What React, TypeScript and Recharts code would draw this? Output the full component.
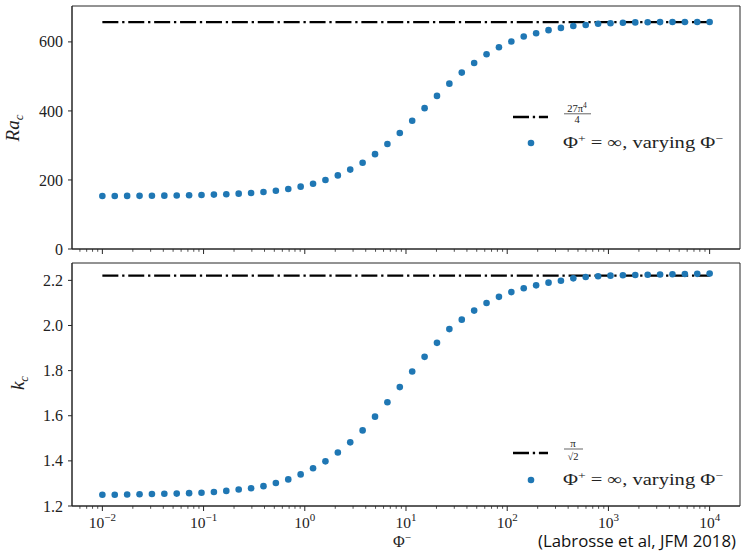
import React from 'react';
import { ComposedChart, Scatter, Line, XAxis, YAxis, ReferenceArea } from 'recharts';

// Φ⁻ sample values (50 log-spaced values from 1e-2 to 1e4)
const phiMinus = [
  0.01, 0.013257, 0.017575, 0.0233, 0.030888, 0.040949, 0.054287, 0.071969, 0.09541, 0.12649,
  0.16768, 0.2223, 0.29471, 0.39069, 0.51795, 0.68665, 0.9103, 1.2068, 1.5999, 2.121,
  2.8118, 3.7276, 4.9417, 6.5513, 8.6851, 11.514, 15.264, 20.236, 26.827, 35.565,
  47.149, 62.506, 82.864, 109.85, 145.63, 193.07, 255.95, 339.32, 449.84, 596.36,
  790.6, 1048.1, 1389.5, 1842.1, 2442.1, 3237.5, 4291.9, 5689.9, 7543.1, 10000,
];

const raC = [
  153.6, 153.7, 153.8, 154.0, 154.2, 154.6, 155.1, 155.8, 156.6, 157.6,
  158.8, 160.4, 162.4, 165.0, 168.6, 174.0, 180.6, 189.2, 199.8, 213.2,
  230.0, 250.0, 274.8, 304.0, 336.0, 371.5, 408.0, 443.5, 479.0, 511.0,
  539.0, 564.0, 584.5, 601.0, 615.5, 625.0, 634.0, 640.6, 646.0, 649.0,
  652.5, 654.0, 655.5, 656.5, 657.0, 657.3, 657.5, 657.6, 657.7, 657.8,
];

const kC = [
  1.25, 1.25, 1.251, 1.252, 1.253, 1.254, 1.255, 1.257, 1.259, 1.262,
  1.267, 1.273, 1.279, 1.288, 1.302, 1.318, 1.34, 1.367, 1.398, 1.437,
  1.482, 1.535, 1.596, 1.66, 1.727, 1.796, 1.861, 1.923, 1.984, 2.026,
  2.066, 2.1, 2.127, 2.148, 2.165, 2.178, 2.19, 2.198, 2.209, 2.215,
  2.218, 2.221, 2.223, 2.224, 2.225, 2.226, 2.227, 2.228, 2.229, 2.23,
];

// Asymptotes: 27π⁴/4 and π/√2
const raLimit = 657.51;
const kLimit = 2.2214;
const limitRange = [0.01, 10000];

const xDomain = [0.0050119, 19952.6];
const xTicks = [
  0.006, 0.007, 0.008, 0.009, 0.01,
  0.02, 0.03, 0.04, 0.05, 0.06, 0.07, 0.08, 0.09, 0.1,
  0.2, 0.3, 0.4, 0.5, 0.6, 0.7, 0.8, 0.9, 1,
  2, 3, 4, 5, 6, 7, 8, 9, 10,
  20, 30, 40, 50, 60, 70, 80, 90, 100,
  200, 300, 400, 500, 600, 700, 800, 900, 1000,
  2000, 3000, 4000, 5000, 6000, 7000, 8000, 9000, 10000,
];
const raTicks = [0, 200, 400, 600];
const raDomain = [0, 704];
const kTicks = [1.2, 1.4, 1.6, 1.8, 2.0, 2.2];
const kDomain = [1.2, 2.277];

const raData = phiMinus.map((x, i) => ({ x, y: raC[i] }));
const kData = phiMinus.map((x, i) => ({ x, y: kC[i] }));
const raLine = limitRange.map((x) => ({ x, y: raLimit }));
const kLine = limitRange.map((x) => ({ x, y: kLimit }));

const BLUE = '#1f77b4';
const AXIS = '#262626';
const DASHDOT = '16 3.8 2.3 3.8';
const SERIF = 'Liberation Serif';

const makeXTick = (showLabel: boolean) => (props: any) => {
  const { x, y, payload } = props;
  const v = payload.value;
  const e = Math.log10(v);
  const re = Math.round(e);
  const major = Math.abs(e - re) < 1e-6;
  const sup = re < 0 ? '\u2212' + Math.abs(re) : String(re);
  return (
    <g>
      <line x1={x} x2={x} y1={y} y2={y + (major ? 5 : 2.8)} stroke={AXIS} strokeWidth={major ? 1 : 0.8} />
      {major && showLabel && (
        <text x={x} y={y + 22} textAnchor="middle" fill="#222" fontFamily={SERIF} fontSize={15.5}>
          10
          <tspan dy={-7} fontSize={11}>{sup}</tspan>
        </text>
      )}
    </g>
  );
};

const makeYTick = (digits: number) => (props: any) => {
  const { x, y, payload } = props;
  return (
    <g>
      <line x1={x - 4} x2={x} y1={y} y2={y} stroke={AXIS} strokeWidth={1} />
      <text x={x - 9} y={y} dy="0.35em" textAnchor="end" fill="#222" fontFamily={SERIF} fontSize={16}>
        {payload.value.toFixed(digits)}
      </text>
    </g>
  );
};

const dot = (p: any) => <circle cx={p.cx} cy={p.cy} r={3.3} fill={BLUE} />;

function Panel(props: {
  top: number;
  height: number;
  marginTop: number;
  xHeight: number;
  showXLabels: boolean;
  data: { x: number; y: number }[];
  line: { x: number; y: number }[];
  yDomain: number[];
  yTicks: number[];
  digits: number;
}) {
  const { top, height, marginTop, xHeight, showXLabels, data, line, yDomain, yTicks, digits } = props;
  return (
    <div style={{ position: 'absolute', left: 0, top }}>
      <ComposedChart width={741} height={height} margin={{ top: marginTop, right: 1, bottom: 0, left: 0 }}>
        <XAxis
          dataKey="x"
          type="number"
          scale="log"
          domain={xDomain}
          allowDataOverflow
          ticks={xTicks}
          interval={0}
          tickLine={false}
          tickSize={0}
          tickMargin={0}
          height={xHeight}
          axisLine={{ stroke: AXIS, strokeWidth: 1 }}
          tick={makeXTick(showXLabels)}
        />
        <YAxis
          dataKey="y"
          type="number"
          domain={yDomain}
          allowDataOverflow
          ticks={yTicks}
          interval={0}
          tickLine={false}
          tickSize={0}
          tickMargin={0}
          width={72}
          axisLine={{ stroke: AXIS, strokeWidth: 1 }}
          tick={makeYTick(digits)}
        />
        <ReferenceArea
          x1={xDomain[0]}
          x2={xDomain[1]}
          y1={yDomain[0]}
          y2={yDomain[1]}
          ifOverflow="visible"
          fill="none"
          fillOpacity={0}
          stroke={AXIS}
          strokeWidth={1}
        />
        <Line
          data={line}
          dataKey="y"
          stroke="#000"
          strokeWidth={2.3}
          strokeDasharray={DASHDOT}
          dot={false}
          activeDot={false}
          isAnimationActive={false}
        />
        <Scatter data={data} dataKey="y" fill={BLUE} shape={dot} isAnimationActive={false} />
      </ComposedChart>
    </div>
  );
}

function LegendBlock(props: { lineY: number; dotY: number; children: React.ReactNode }) {
  const { lineY, dotY, children } = props;
  return (
    <g>
      <line x1={513} x2={548} y1={lineY} y2={lineY} stroke="#000" strokeWidth={2.3} strokeDasharray={DASHDOT} />
      {children}
      <circle cx={531} cy={dotY} r={3.3} fill={BLUE} />
      <text x={563} y={dotY + 5} fontFamily={SERIF} fontSize={16.5} fill="#222" textLength={160} lengthAdjust="spacingAndGlyphs">
        {'\u03A6'}
        <tspan dy={-6} fontSize={11}>+</tspan>
        <tspan dy={6}>{' = \u221E, varying \u03A6'}</tspan>
        <tspan dy={-6} fontSize={11}>{'\u2212'}</tspan>
      </text>
    </g>
  );
}

export default function App() {
  return (
    <div style={{ position: 'absolute', left: 0, top: 0, width: 741, height: 554, background: '#fff', overflow: 'hidden' }}>
      <Panel
        top={0}
        height={258}
        marginTop={6}
        xHeight={9}
        showXLabels={false}
        data={raData}
        line={raLine}
        yDomain={raDomain}
        yTicks={raTicks}
        digits={0}
      />
      <Panel
        top={258}
        height={296}
        marginTop={5}
        xHeight={48}
        showXLabels={true}
        data={kData}
        line={kLine}
        yDomain={kDomain}
        yTicks={kTicks}
        digits={1}
      />
      <svg width={741} height={554} style={{ position: 'absolute', left: 0, top: 0, pointerEvents: 'none' }}>
        <text transform="rotate(-90 19 128)" x={19} y={128} textAnchor="middle" fontFamily={SERIF} fontStyle="italic" fontSize={19} fill="#222">
          Ra<tspan dy={4} fontSize={13}>c</tspan>
        </text>
        <text transform="rotate(-90 24 383)" x={24} y={383} textAnchor="middle" fontFamily={SERIF} fontStyle="italic" fontSize={19} fill="#222">
          k<tspan dy={4} fontSize={13}>c</tspan>
        </text>
        <text x={402} y={547} textAnchor="middle" fontFamily={SERIF} fontSize={16} fill="#222">
          {'\u03A6'}
          <tspan dy={-6} fontSize={11}>{'\u2212'}</tspan>
        </text>
        <text x={736} y={547} textAnchor="end" fontFamily="Open Sans" fontSize={15.5} fill="#111" textLength={198} lengthAdjust="spacingAndGlyphs">
          (Labrosse et al, JFM 2018)
        </text>

        <LegendBlock lineY={117} dotY={143}>
          <text x={577} y={111.5} textAnchor="middle" fontFamily={SERIF} fontSize={10.5} fill="#222">
            27{'\u03C0'}
            <tspan dy={-4} fontSize={7.5}>4</tspan>
          </text>
          <line x1={564} x2={591} y1={113.8} y2={113.8} stroke="#222" strokeWidth={0.7} />
          <text x={577} y={122.5} textAnchor="middle" fontFamily={SERIF} fontSize={10.5} fill="#222">
            4
          </text>
        </LegendBlock>

        <LegendBlock lineY={453} dotY={480}>
          <text x={573} y={446.5} textAnchor="middle" fontFamily={SERIF} fontSize={11} fill="#222">
            {'\u03C0'}
          </text>
          <line x1={564} x2={583} y1={449} y2={449} stroke="#222" strokeWidth={0.7} />
          <text x={573} y={460} textAnchor="middle" fontFamily={SERIF} fontSize={10.5} fill="#222">
            {'\u221A2'}
          </text>
        </LegendBlock>
      </svg>
    </div>
  );
}
